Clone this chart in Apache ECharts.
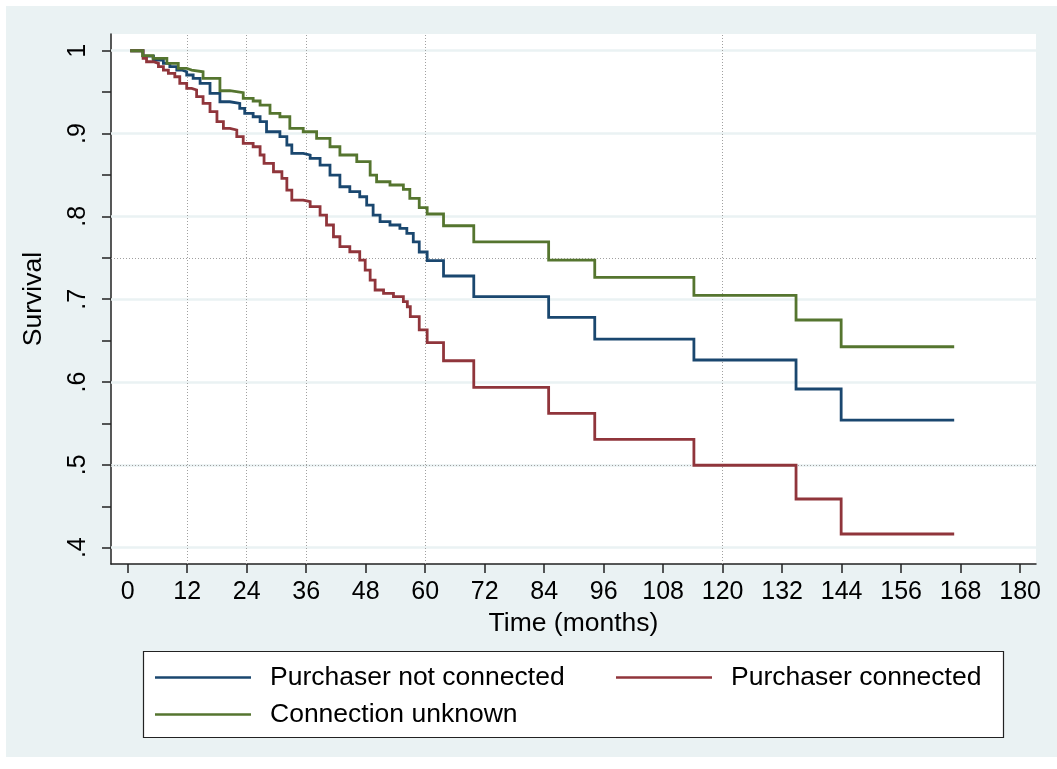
<!DOCTYPE html>
<html>
<head>
<meta charset="utf-8">
<script src="https://cdn.jsdelivr.net/npm/echarts@6/dist/echarts.min.js"></script>
<style>
html,body{margin:0;padding:0;background:#fff;}
#chart{width:1057px;height:769px;}
</style>
</head>
<body>
<div id="chart"></div>
<script>
// ---- data (time in months, survival probability) ----
const seriesNames = ['Purchaser not connected', 'Purchaser connected', 'Connection unknown'];

const notConnTime = [0.5, 3.1, 5.2, 7.2, 8.5, 9.9, 10.9, 11.9, 13.2, 14.6, 16.6, 18.6, 20.6, 22.6, 23.6, 25.3, 26.7, 28.0, 30.7, 32.1, 33.1, 35.4, 36.8, 38.8, 40.8, 42.8, 44.8, 46.8, 48.2, 49.5, 50.9, 52.9, 54.9, 56.3, 57.6, 58.8, 60.4, 63.7, 69.8, 84.9, 94.2, 114.2, 134.8, 143.9, 166.7];
const notConnSurv = [1.0, 0.9936, 0.9888, 0.9848, 0.9807, 0.9767, 0.9746, 0.9707, 0.9667, 0.9606, 0.9486, 0.9384, 0.9365, 0.9305, 0.9244, 0.9203, 0.9143, 0.9022, 0.8962, 0.8862, 0.8761, 0.8741, 0.8701, 0.8620, 0.8499, 0.8358, 0.8298, 0.8237, 0.8137, 0.8016, 0.7936, 0.7896, 0.7856, 0.7795, 0.7691, 0.7570, 0.7465, 0.7280, 0.7030, 0.6781, 0.6519, 0.6266, 0.5916, 0.5541, 0.5541];

const connTime = [0.5, 3.1, 3.8, 5.2, 6.2, 7.2, 8.2, 9.5, 10.5, 11.9, 12.9, 13.9, 15.2, 16.6, 18.0, 19.3, 20.6, 22.0, 23.3, 25.3, 26.7, 27.5, 29.4, 31.1, 32.1, 33.1, 35.4, 36.8, 38.8, 40.1, 41.5, 42.8, 44.8, 46.8, 47.9, 48.9, 49.9, 51.6, 53.6, 55.6, 56.4, 57.0, 58.8, 60.4, 63.7, 69.8, 84.9, 94.2, 114.2, 134.8, 143.9, 166.7];
const connSurv = [1.0, 0.9908, 0.9867, 0.9848, 0.9807, 0.9767, 0.9727, 0.9686, 0.9606, 0.9546, 0.9526, 0.9445, 0.9365, 0.9264, 0.9143, 0.9063, 0.9043, 0.8962, 0.8882, 0.8841, 0.8741, 0.8641, 0.8539, 0.8459, 0.8318, 0.8197, 0.8177, 0.8117, 0.8016, 0.7896, 0.7754, 0.7634, 0.7573, 0.7473, 0.7352, 0.7231, 0.7111, 0.7071, 0.7030, 0.6970, 0.6909, 0.6789, 0.6630, 0.6475, 0.6257, 0.5936, 0.5622, 0.5308, 0.4995, 0.4588, 0.4165, 0.4165];

const unknownTime = [0.5, 3.0, 5.1, 7.9, 10.2, 11.9, 12.9, 15.2, 18.6, 20.6, 23.3, 25.3, 26.7, 28.7, 30.7, 32.7, 35.4, 38.1, 40.8, 42.8, 46.2, 48.9, 50.2, 52.9, 55.6, 56.9, 58.8, 60.4, 63.7, 69.8, 84.9, 94.2, 114.2, 134.8, 143.9, 166.7];
const unknownSurv = [1.0, 0.994, 0.9908, 0.9848, 0.9788, 0.9767, 0.9746, 0.9667, 0.9517, 0.9493, 0.9425, 0.9393, 0.9344, 0.9244, 0.9203, 0.9063, 0.9022, 0.8942, 0.8841, 0.8741, 0.8660, 0.8499, 0.8418, 0.8379, 0.8327, 0.8218, 0.8105, 0.8029, 0.7887, 0.7691, 0.7473, 0.7264, 0.7047, 0.6749, 0.6426, 0.6426];

// axis ticks / labels
const xTicks = [0, 12, 24, 36, 48, 60, 72, 84, 96, 108, 120, 132, 144, 156, 168, 180];
const yTicks = [0.4, 0.45, 0.5, 0.55, 0.6, 0.65, 0.7, 0.75, 0.8, 0.85, 0.9, 0.95, 1.0];
const yLabelValues = [0.4, 0.5, 0.6, 0.7, 0.8, 0.9, 1.0];
const yLabelTexts = ['.4', '.5', '.6', '.7', '.8', '.9', '1'];
// reference lines (dotted)
const refTimes = [12, 24, 36, 60, 120];
const refSurv = [0.75, 0.5];

// ---- styling ----
const colors = ['#1a476f', '#90353b', '#55752f'];
const FONT = 'Liberation Sans, Arial, Helvetica, sans-serif';
const pair = (ts, vs) => ts.map((t, i) => [t, vs[i]]);

const chart = echarts.init(document.getElementById('chart'), null, {renderer: 'canvas'});

function curve(name, data, color) {
  return {
    name: name, type: 'line', step: 'end', data: data,
    symbol: 'none', showSymbol: false, z: 3, animation: false,
    lineStyle: {color: color, width: 2.8, join: 'miter'}, itemStyle: {color: color}
  };
}

function legendAt(name, left, top) {
  return {
    data: [{name: name, icon: 'rect'}], left: left, top: top, padding: 0,
    itemWidth: 96, itemHeight: 2.6, selectedMode: false,
    textStyle: {fontFamily: FONT, fontSize: 26.5, color: '#000', padding: [0, 0, 0, 14]}
  };
}

const option = {
  backgroundColor: '#ffffff',
  animation: false,
  textStyle: {fontFamily: FONT},
  graphic: [
    {type: 'rect', z: -100, silent: true, shape: {x: 6, y: 6, width: 1051, height: 751}, style: {fill: '#eaf2f3'}},
    {type: 'rect', z: 2, silent: true, shape: {x: 143.5, y: 651.5, width: 860, height: 86}, style: {fill: '#ffffff', stroke: '#222', lineWidth: 1.2}}
  ],
  grid: {left: 111, right: 21, top: 34, bottom: 205, show: true, backgroundColor: '#ffffff', borderWidth: 0},
  legend: [
    legendAt(seriesNames[0], 155, 664),
    legendAt(seriesNames[1], 616, 664),
    legendAt(seriesNames[2], 155, 701)
  ],
  xAxis: {
    type: 'value', min: -3.37, max: 183.2,
    name: 'Time (months)', nameLocation: 'middle', nameGap: 42,
    nameTextStyle: {fontFamily: FONT, fontSize: 26.5, color: '#000'},
    axisLine: {show: true, onZero: false, lineStyle: {color: '#222', width: 1.5}},
    axisTick: {show: true, length: 9, customValues: xTicks, lineStyle: {color: '#222', width: 1.5}},
    axisLabel: {show: true, customValues: xTicks, margin: 16, fontFamily: FONT, fontSize: 25, color: '#000'},
    splitLine: {show: false}
  },
  yAxis: {
    type: 'value', min: 0.3803, max: 1.0202,
    name: 'Survival', nameLocation: 'middle', nameGap: 64,
    nameTextStyle: {fontFamily: FONT, fontSize: 26.5, color: '#000'},
    axisLine: {show: true, onZero: false, lineStyle: {color: '#222', width: 1.5}},
    axisTick: {show: true, length: 9, customValues: yTicks, lineStyle: {color: '#222', width: 1.5}},
    axisLabel: {
      show: true, customValues: yLabelValues, rotate: 90, margin: 20,
      fontFamily: FONT, fontSize: 25, color: '#000',
      formatter: function (v) {
        let best = 0;
        yLabelValues.forEach((lv, i) => { if (Math.abs(lv - v) < Math.abs(yLabelValues[best] - v)) best = i; });
        return yLabelTexts[best];
      }
    },
    splitLine: {show: false}
  },
  series: [
    {
      name: 'grid', type: 'line', data: [], z: 1, silent: true, symbol: 'none',
      markLine: {
        silent: true, symbol: 'none', label: {show: false}, animation: false, z: 1,
        data: yLabelValues.map(v => ({yAxis: v, lineStyle: {color: '#eaf2f3', width: 2.5, type: 'solid'}}))
          .concat(refTimes.map(t => ({xAxis: t, lineStyle: {color: '#a0a0a0', width: 1, type: [1, 2]}})))
          .concat(refSurv.map(v => ({yAxis: v, lineStyle: {color: '#a0a0a0', width: 1, type: [1, 2]}})))
      }
    },
    curve(seriesNames[0], pair(notConnTime, notConnSurv), colors[0]),
    curve(seriesNames[1], pair(connTime, connSurv), colors[1]),
    curve(seriesNames[2], pair(unknownTime, unknownSurv), colors[2])
  ]
};

chart.setOption(option);
</script>
</body>
</html>
